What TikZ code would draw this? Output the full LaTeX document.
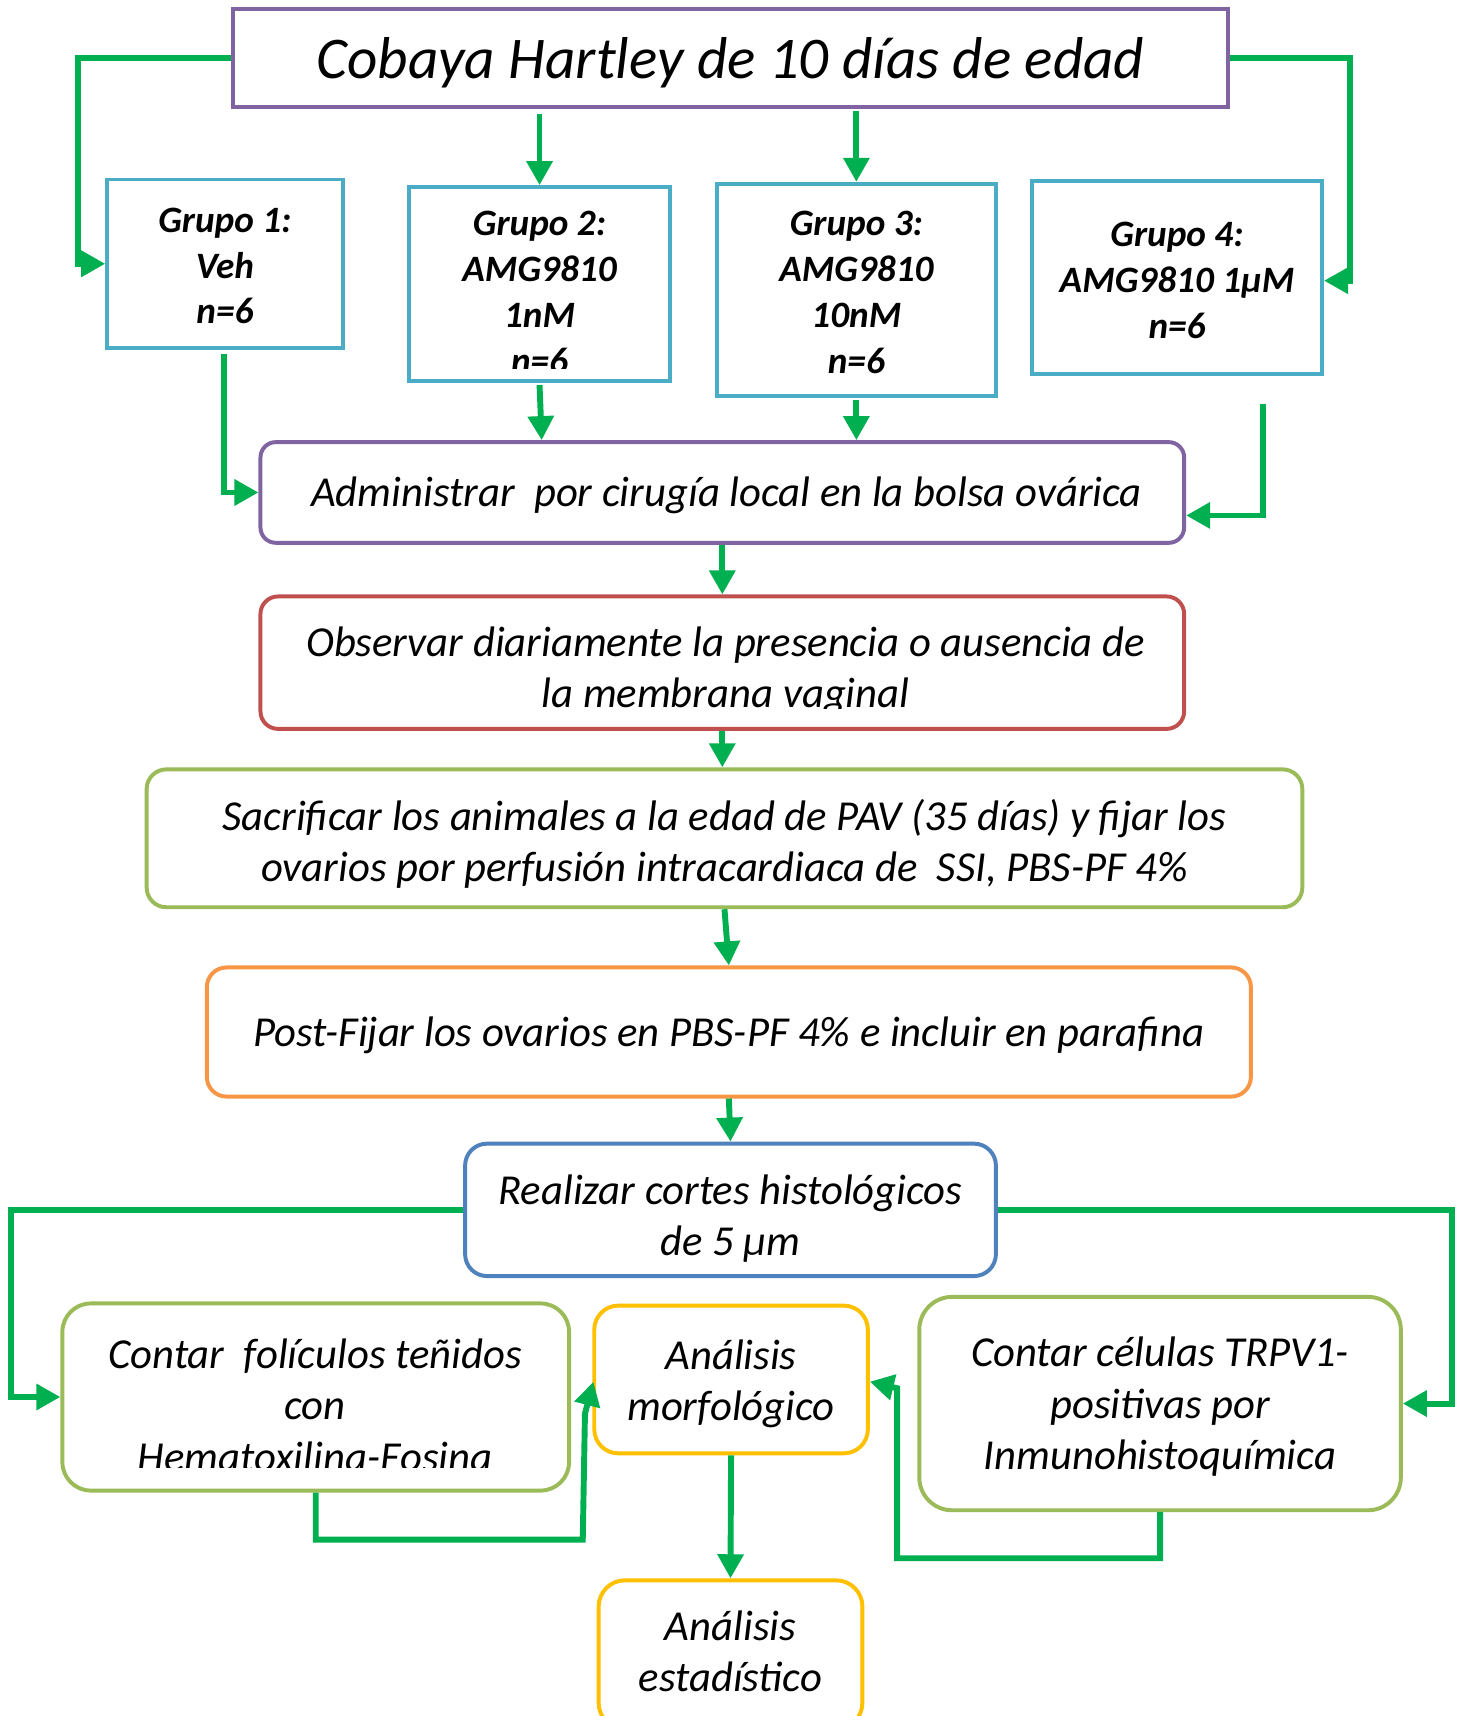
\documentclass[tikz,border=0pt]{standalone}
\usepackage{fontspec}
\setmainfont{Carlito}
\usetikzlibrary{arrows.meta,calc}
\definecolor{cpur}{HTML}{8064A2}
\definecolor{ccyan}{HTML}{4BACC6}
\definecolor{cred}{HTML}{C0504D}
\definecolor{cgrn}{HTML}{9BBB59}
\definecolor{corg}{HTML}{F79646}
\definecolor{cblu}{HTML}{4F81BD}
\definecolor{cyel}{HTML}{FFC000}
\definecolor{cconn}{HTML}{00B050}
% #1 name, #2-#5 corners, #6 box style, #7 text style, #8 text y offset, #9 text
\newcommand\bx[9]{%
  \node[#6, minimum width={(#4-#2)*0.5pt}, minimum height={(#5-#3)*0.5pt}] (#1) at ({(#2+#4)/2},{(#3+#5)/2}) {};
  \node[#7] (#1-t) at ({(#2+#4)/2},{(#3+#5)/2+#8}) {#9};}
\begin{document}
\begin{tikzpicture}[x=0.5pt,y=-0.5pt,
  box/.style={draw, line width=1.8pt, fill=white, inner sep=0pt},
  rbox/.style={box, rounded corners=#1},
  txt/.style={inner sep=0pt, align=center, font=\fontsize{19.5}{23.5}\selectfont\itshape},
  grptxt/.style={txt, font=\fontsize{17}{21}\selectfont\bfseries\itshape},
  tittxt/.style={txt, font=\fontsize{27}{33}\selectfont\itshape},
  grp/.style={box, draw=ccyan},
  conn/.style={draw=cconn, line width=2.7pt, -{Triangle[length=11pt,width=11.5pt]}}]
\useasboundingbox (0,0) rectangle (1334,1568);
\fill[white] (0,0) rectangle (1334,1568);
\clip (0,0) rectangle (1334,1568);

% boxes
\bx{title}{213}{8}{1122}{98}{box, draw=cpur}{tittxt}{4}{Cobaya Hartley de 10 días de edad}
\bx{g1}{98}{164}{313}{318}{grp}{grptxt}{2}{Grupo 1:\\Veh\\n=6}
\bx{g2}{374}{171}{612}{348}{grp}{grptxt}{0}{}
\begin{scope}
\clip (374,171) rectangle (612,337);
\node[grptxt] (g2t) at (493,267.5) {Grupo 2:\\AMG9810\\1nM\\n=6};
\end{scope}
\bx{g3}{655}{168}{910}{362}{grp}{grptxt}{2}{Grupo 3:\\AMG9810\\10nM\\n=6}
\bx{g4}{943}{165}{1208}{342}{grp}{grptxt}{3}{Grupo 4:\\AMG9810 1µM\\n=6}
\bx{admin}{238}{404}{1082}{496}{rbox=7pt, draw=cpur}{txt, xshift=2pt}{3}{Administrar\ \ por cirugía local en la bolsa ovárica}
\bx{obs}{238}{545}{1082}{666}{rbox=8pt, draw=cred}{txt}{0}{}
\begin{scope}
\clip (238,545) rectangle (1082,647);
\node[txt] (obst) at (663,613) {Observar diariamente la presencia o ausencia de\\la membrana vaginal};
\end{scope}
\bx{sac}{134}{703}{1190}{829}{rbox=9pt, draw=cgrn}{txt}{5}{Sacrificar los animales a la edad de PAV (35 días) y fijar los\\ovarios por perfusión intracardiaca de\ \ SSI, PBS-PF 4\%}
\bx{post}{189}{884}{1143}{1002}{rbox=9pt, draw=corg}{txt}{3}{Post-Fijar los ovarios en PBS-PF 4\% e incluir en parafina}
\bx{real}{425}{1045}{910}{1166}{rbox=10pt, draw=cblu}{txt}{8}{Realizar cortes histológicos\\de 5 µm}
\bx{cf}{57}{1191}{520}{1362}{rbox=13pt, draw=cgrn}{txt}{0}{}
\begin{scope}
\clip (57,1191) rectangle (520,1341);
\node[txt] (cft) at (288,1284) {Contar\ \ folículos teñidos\\con\\Hematoxilina-Eosina};
\end{scope}
\bx{am}{543}{1193}{793}{1328}{rbox=11pt, draw=cyel}{txt}{4}{Análisis\\morfológico}
\bx{cc}{840}{1185}{1280}{1380}{rbox=15pt, draw=cgrn}{txt}{3}{Contar células TRPV1-\\positivas por\\Inmunohistoquímica}
\bx{ae}{547}{1444}{788}{1580}{rbox=12pt, draw=cyel}{txt}{-3}{Análisis\\estadístico}

% connectors
\draw[conn] (title.west) -- ++(-140,0) |- (g1.west);
\draw[conn] ($(title.south -| g2.north)+(0,4)$) -- (g2.north);
\draw[conn] ($(title.south -| g3.north)+(0,2)$) -- (g3.north);
\draw[conn] (title.east) -- ++(110,0) |- ($(g4.east)+(0,3)$);
\draw[conn] ($(g1.south)+(-1,4)$) |- (admin.west);
\draw[conn] ($(g2.south)+(0,2)$) -- ($(g2.south |- admin.north)+(2,0)$);
\draw[conn] ($(g3.south)+(0,2)$) -- (g3.south |- admin.north);
\draw[conn] ($(g4.south east)+(-56,25)$) |- ($(admin.east)+(0,21)$);
\draw[conn] (admin.south) -- (obs.north);
\draw[conn] (obs.south) -- (sac.north -| obs.south);
\draw[conn] (sac.south) -- (post.north);
\draw[conn] (post.south) -- (real.north);
\draw[conn] (real.west) -- ++(-413,0) |- (cf.west);
\draw[conn] (real.east) -- ++(415,0) |- (cc.east);
\draw[conn] (cf.south) -- ++(0,43) -- ++(244,0) -- ++(2,-115) -- ($(am.west)+(1,2)$);
\draw[conn] (cc.south) -- ++(0,42) -| ($(am.east)+(25,8)$) -- ($(am.east)+(0,2)$);
\draw[conn] (am.south) -- (ae.north);
\end{tikzpicture}
\end{document}
